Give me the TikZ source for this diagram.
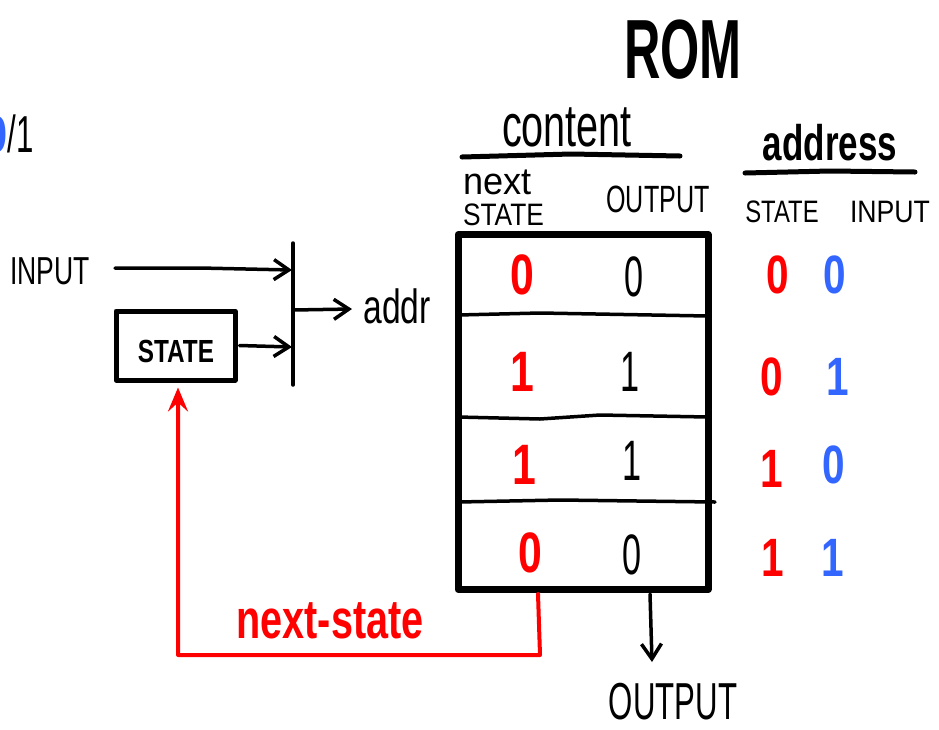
\documentclass[tikz,border=0pt]{standalone}
\usepackage{fontspec}
\usepackage{graphicx}
\setmainfont{Liberation Sans}
\usetikzlibrary{arrows.meta,calc}
\definecolor{hred}{RGB}{255,0,0}
\definecolor{hblue}{RGB}{51,102,255}
\newcommand\hwx[2]{\scalebox{#1}[1]{#2}}
\newcommand\fs[1]{\fontsize{#1}{#1}\selectfont}
\begin{document}
\begin{tikzpicture}[x=1pt,y=-1pt,line cap=round,line join=round,
  txt/.style={inner sep=0pt,outer sep=0pt,anchor=base},
  arr/.style={line width=3.5pt,-{Straight Barb[length=15pt,width=20pt]}},
  redarr/.style={hred,line width=4pt,-{Stealth[length=24pt,width=20pt,inset=9pt]}},
  uline/.style={line width=5pt},
  rowline/.style={line width=3.5pt},
  rdig/.style={txt,text=hred,font=\fs{57}\bfseries},
  bdig/.style={txt,text=black,font=\fs{57}},
  adigr/.style={txt,text=hred,font=\fs{54}\bfseries},
  adigb/.style={txt,text=hblue,font=\fs{54}\bfseries}]
\useasboundingbox (0,0) rectangle (939,729);

% top-left fragment
\node[txt,anchor=base east] (zero) at (8,152) {\fs{52}\bfseries\textcolor{hblue}{\hwx{0.8}{0}}};
\node[txt,anchor=base west] (slash) at (8,152) {\fs{52}\hwx{0.6}{/1}};

% titles
\node[txt] (rom) at (683,78) {\fs{84}\bfseries\hwx{0.6}{ROM}};
\node[txt] (content) at (567,146) {\fs{60}\hwx{0.66}{content}};
\draw[uline] (462,157) -- (571,154) -- (680,156);
\node[txt] (address) at (830,160) {\fs{50}\bfseries\hwx{0.7}{address}};
\draw[uline] (745,173) -- (830,171) -- (915,172);

\node[txt,anchor=base west] (next) at (463,194) {\fs{38}\hwx{0.95}{next}};
\node[txt,anchor=base west] (nstate) at (463,225) {\fs{31}\hwx{0.85}{STATE}};
\node[txt] (outhdr) at (658,212) {\fs{38}\hwx{0.66}{OUTPUT}};
\node[txt] (astate) at (782,222) {\fs{31}\hwx{0.77}{STATE}};
\node[txt] (ainput) at (890,222) {\fs{31}\hwx{0.86}{INPUT}};

% ROM table
\node[draw,line width=7pt,minimum width=250pt,minimum height=355pt,inner sep=0pt] (romtab) at (583,412) {};
\draw[rowline] (458,315) -- (540,313) -- (708,316);
\draw[rowline] (458,417) -- (540,419) -- (600,415) -- (708,417);
\draw[rowline] (458,502) -- (560,500) -- (715,502);

\node[rdig] (r1) at (522,294) {\hwx{0.75}{0}};
\node[bdig] (o1) at (634,296) {\hwx{0.6}{0}};
\node[rdig] (r2) at (522,391) {\hwx{0.75}{1}};
\node[bdig] (o2) at (630,391) {\hwx{0.6}{1}};
\node[rdig] (r3) at (524,484) {\hwx{0.75}{1}};
\node[bdig] (o3) at (632,480) {\hwx{0.6}{1}};
\node[rdig] (r4) at (530,572) {\hwx{0.75}{0}};
\node[bdig] (o4) at (632,574) {\hwx{0.6}{0}};

% address column
\node[adigr] (a1s) at (778,293) {\hwx{0.75}{0}};
\node[adigb] (a1i) at (835,293) {\hwx{0.75}{0}};
\node[adigr] (a2s) at (772,395) {\hwx{0.75}{0}};
\node[adigb] (a2i) at (838,395) {\hwx{0.75}{1}};
\node[adigr] (a3s) at (772,487) {\hwx{0.75}{1}};
\node[adigb] (a3i) at (834,483) {\hwx{0.75}{0}};
\node[adigr] (a4s) at (773,576) {\hwx{0.75}{1}};
\node[adigb] (a4i) at (833,576) {\hwx{0.75}{1}};

% left part
\node[txt] (input) at (50,284) {\fs{39}\hwx{0.68}{INPUT}};
\node[draw,line width=5pt,minimum width=119pt,minimum height=69pt,inner sep=0pt] (state) at (175.5,345.5) {};
\node[txt] (statetxt) at (176,362) {\fs{32}\bfseries\hwx{0.76}{STATE}};
\coordinate (bartop) at (293,243);
\coordinate (barbot) at (293,385);
\draw[line width=3.5pt] (bartop) -- (barbot);
\coordinate (binput) at (292,270);
\coordinate (bstate) at (292,347);
\coordinate (baddr) at (293,310);
\coordinate (inputstart) at (115,268);
\draw[arr] (inputstart) -- (200,268) -- (binput);
\draw[arr] (state.east) ++(2,0) -- (bstate);
\node[txt] (addr) at (397,323) {\fs{48}\hwx{0.7}{addr}};
\draw[arr] (baddr) -- (352,309);

% next-state feedback
\coordinate (nsstart) at (538,594);
\coordinate (nscorner) at (540,655);
\draw[redarr] (nsstart) -- (nscorner) -- (178,655) -- ($(state.south)+(2.5,5)$);
\node[txt,text=hred] (nslabel) at (330,638) {\fs{55}\bfseries\hwx{0.72}{next-state}};

% output
\coordinate (outstart) at (650,594);
\node[txt] (outtxt) at (673,719) {\fs{52}\hwx{0.6}{OUTPUT}};
\draw[arr] (outstart) -- (652,662);
\end{tikzpicture}
\end{document}
